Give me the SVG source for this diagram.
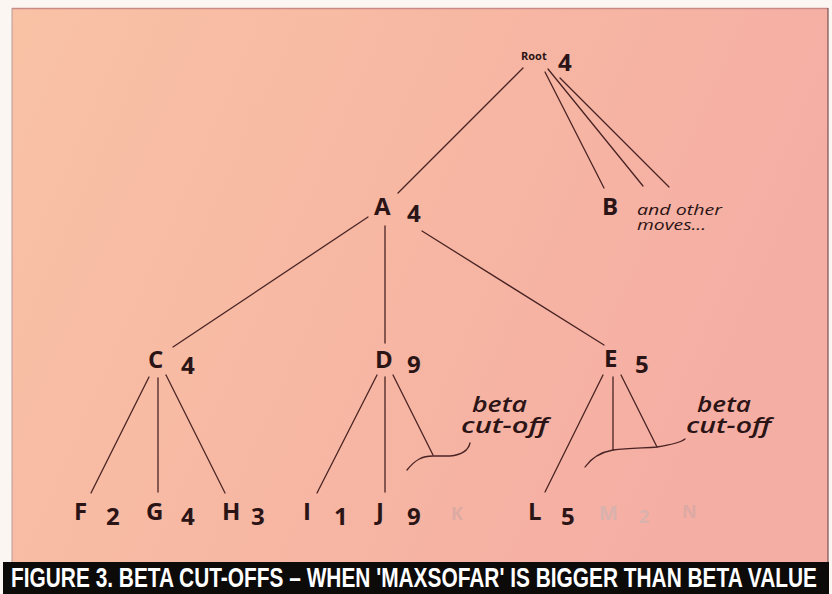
<svg xmlns="http://www.w3.org/2000/svg" width="832" height="594" viewBox="0 0 832 594">
<defs>
<linearGradient id="bg" x1="0" y1="0" x2="1" y2="0.3">
<stop offset="0" stop-color="#f9c2a5"/>
<stop offset="0.5" stop-color="#f7b8a3"/>
<stop offset="1" stop-color="#f5aea4"/>
</linearGradient>
<style>
.ln{stroke:#4a2424;stroke-width:1.3;fill:none;stroke-linecap:round}
.nd{font-family:"Open Sans","DejaVu Sans",sans-serif;font-weight:700;fill:#2b1416}
.lt{font-size:24px}
.num{font-size:24px}
.it{font-family:"Open Sans","DejaVu Sans",sans-serif;font-style:italic;fill:#2b1416}
.mv{font-size:15px}
.beta{font-size:21px;font-weight:600}
.nd.fd{fill:#dcaaa3}
.nd.fg{fill:#d9b2ae}
.cap{font-family:"Liberation Sans",Arial,sans-serif;font-weight:700;font-size:28px;fill:#ffffff}
</style>
</defs>
<rect x="0" y="0" width="832" height="594" fill="#fbf6f2"/>
<rect x="12" y="8" width="816" height="556" fill="url(#bg)"/>
<line x1="12" y1="8.5" x2="828" y2="8.5" stroke="#c98a86" stroke-width="1.5"/>
<line x1="12" y1="8" x2="12" y2="564" stroke="#b79a98" stroke-width="1"/>
<line x1="828" y1="8" x2="828" y2="564" stroke="#7a5050" stroke-width="1.2"/>

<g id="connectors">
<line class="ln" x1="523" y1="68" x2="398" y2="193"/>
<line class="ln" x1="545" y1="72" x2="604" y2="188"/>
<line class="ln" x1="548" y1="69" x2="643" y2="186"/>
<line class="ln" x1="560" y1="78" x2="669" y2="187"/>
<line class="ln" x1="368" y1="217" x2="173" y2="347"/>
<line class="ln" x1="385" y1="226" x2="385" y2="343"/>
<line class="ln" x1="422" y1="231" x2="604" y2="345"/>
<line class="ln" x1="149" y1="377" x2="91" y2="493"/>
<line class="ln" x1="158" y1="378" x2="158" y2="492"/>
<line class="ln" x1="166" y1="375" x2="225" y2="493"/>
<line class="ln" x1="377" y1="375" x2="317" y2="493"/>
<line class="ln" x1="385" y1="377" x2="385" y2="492"/>
<line class="ln" x1="393" y1="375" x2="433" y2="455"/>
<line class="ln" x1="603" y1="375" x2="545" y2="492"/>
<line class="ln" x1="613" y1="377" x2="613" y2="450"/>
<line class="ln" x1="621" y1="375" x2="657" y2="447"/>
<path class="ln" d="M407,470 C415,460 422,456 433,456 L450,456 C460,455 468,452 470,443"/>
<path class="ln" d="M585,467 C592,457 602,452 613,450 C628,448 645,448 657,447 C670,445 680,443 685,439"/>
</g>

<g id="root"><text class="nd" x="521" y="60" font-size="11">Root</text><text class="nd num" x="558" y="71">4</text></g>
<g id="A"><text class="nd lt" x="374" y="215">A</text><text class="nd num" x="407" y="222">4</text></g>
<g id="B"><text class="nd lt" x="602" y="215">B</text><text class="it mv" x="637" y="215" textLength="85" lengthAdjust="spacingAndGlyphs">and other</text><text class="it mv" x="637" y="230" textLength="69" lengthAdjust="spacingAndGlyphs">moves...</text></g>
<g id="C"><text class="nd lt" x="148" y="368">C</text><text class="nd num" x="181" y="374">4</text></g>
<g id="D"><text class="nd lt" x="375" y="368">D</text><text class="nd num" x="407" y="373">9</text></g>
<g id="E"><text class="nd lt" x="604" y="367">E</text><text class="nd num" x="635" y="373">5</text></g>
<g id="F"><text class="nd lt" x="74" y="520">F</text><text class="nd num" x="106" y="525">2</text></g>
<g id="G"><text class="nd lt" x="146" y="520">G</text><text class="nd num" x="181" y="525">4</text></g>
<g id="H"><text class="nd lt" x="222" y="520">H</text><text class="nd num" x="251" y="525">3</text></g>
<g id="I"><text class="nd lt" x="303" y="520">I</text><text class="nd num" x="334" y="525">1</text></g>
<g id="J"><text class="nd lt" x="376" y="520">J</text><text class="nd num" x="407" y="525">9</text></g>
<g id="K"><text class="nd fd" x="451" y="520" font-size="18">K</text></g>
<g id="L"><text class="nd lt" x="528" y="520">L</text><text class="nd num" x="561" y="525">5</text></g>
<g id="M"><text class="nd fg" x="599" y="520" font-size="20">M</text><text class="nd fg" x="639" y="523" font-size="18">2</text></g>
<g id="N"><text class="nd fd" x="682" y="518" font-size="18">N</text></g>
<g id="beta1"><text class="it beta" x="472" y="412" textLength="55" lengthAdjust="spacingAndGlyphs">beta</text><text class="it beta" x="461" y="433" textLength="87" lengthAdjust="spacingAndGlyphs">cut-off</text></g>
<g id="beta2"><text class="it beta" x="697" y="412" textLength="54" lengthAdjust="spacingAndGlyphs">beta</text><text class="it beta" x="686" y="433" textLength="85" lengthAdjust="spacingAndGlyphs">cut-off</text></g>

<g id="caption">
<rect x="3" y="562" width="826" height="32" fill="#0d0a0a"/>
<text class="cap" x="11" y="587" textLength="806" lengthAdjust="spacingAndGlyphs">FIGURE 3. BETA CUT-OFFS – WHEN 'MAXSOFAR' IS BIGGER THAN BETA VALUE</text>
</g>
</svg>
